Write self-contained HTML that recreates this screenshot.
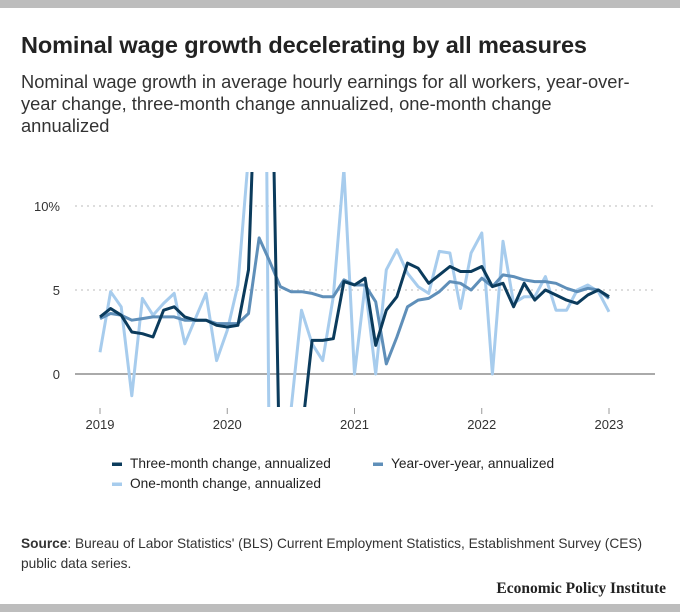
<!DOCTYPE html>
<html><head><meta charset="utf-8">
<style>
body{margin:0;width:680px;height:612px;background:#fff;overflow:hidden;font-family:"Liberation Sans",sans-serif;position:relative}
.bar{position:absolute;left:0;width:680px;height:8px;background:#bdbdbd}
#title{position:absolute;left:21px;top:32px;font-size:23.5px;font-weight:bold;color:#222;margin:0;letter-spacing:-0.1px;white-space:nowrap}
#subtitle{position:absolute;left:21px;top:71px;width:660px;font-size:18.3px;line-height:22px;color:#333;margin:0;white-space:nowrap}
#source{position:absolute;left:21px;top:534px;width:650px;font-size:13.7px;line-height:19.5px;color:#333}
#epi{position:absolute;right:14px;top:580px;font-family:"Liberation Serif",serif;font-weight:bold;font-size:15.5px;color:#222}
</style></head><body>
<div class="bar" style="top:0"></div>
<h1 id="title">Nominal wage growth decelerating by all measures</h1>
<p id="subtitle">Nominal wage growth in average hourly earnings for all workers, year-over-<br>year change, three-month change annualized, one-month change<br>annualized</p>
<svg id="chart" width="680" height="612" style="position:absolute;left:0;top:0">
<defs><clipPath id="plotclip"><rect x="60" y="172" width="610" height="235"/></clipPath></defs>
<g id="grid"></g><g id="axes"></g><g id="series" clip-path="url(#plotclip)"></g><g id="legend"></g>
</svg>
<div id="source"><b>Source</b>: Bureau of Labor Statistics' (BLS) Current Employment Statistics, Establishment Survey (CES) public data series.</div>
<div id="epi">Economic Policy Institute</div>
<div class="bar" style="top:604px"></div>
<script>
const yearTicks=[2019,2020,2021,2022,2023];
const yTicks=[0,5,10];
const yTickLabels=["0","5","10%"];
const threeMonth=[3.4,3.9,3.5,2.5,2.4,2.2,3.8,4.0,3.4,3.2,3.2,2.9,
2.8,2.9,6.2,24,26,-8,-7,-3.7,2.0,2.0,2.1,5.5,
5.3,5.7,1.7,3.8,4.6,6.6,6.3,5.4,5.9,6.4,6.1,6.1,
6.4,5.2,5.4,4.0,5.4,4.4,5.0,4.7,4.4,4.2,4.7,5.0,4.6];
const yoy=[3.3,3.6,3.5,3.2,3.3,3.4,3.4,3.4,3.2,3.2,3.2,3.0,
3.0,3.0,3.6,8.1,6.7,5.2,4.9,4.9,4.8,4.6,4.6,5.6,
5.3,5.3,4.3,0.6,2.2,4.0,4.4,4.5,4.9,5.5,5.4,5.0,
5.7,5.2,5.9,5.8,5.6,5.5,5.5,5.4,5.1,4.9,5.1,5.0,4.5];
const oneMonth=[1.3,4.9,4.0,-1.3,4.5,3.5,4.2,4.8,1.8,3.3,4.8,0.8,
2.6,5.3,13,68,-9,-8,-2.2,3.8,1.8,0.8,4.6,12.2,
0,5.3,0,6.2,7.4,6.0,5.2,4.8,7.3,7.2,3.9,7.2,
8.4,0,7.9,4.2,4.6,4.6,5.8,3.8,3.8,5.0,5.3,4.9,3.7];
const seriesNames=["Three-month change, annualized","Year-over-year, annualized","One-month change, annualized"];
const seriesColors=["#0b3b5c","#5f8fb9","#a7cced"];
const NS="http://www.w3.org/2000/svg";
const x=i=>100+i*(609-100)/48;
const y=v=>374-v*16.8;
function mk(tag,attrs,parent){const e=document.createElementNS(NS,tag);for(const k in attrs)e.setAttribute(k,attrs[k]);parent.appendChild(e);return e;}
const grid=document.getElementById('grid'),axes=document.getElementById('axes'),ser=document.getElementById('series'),leg=document.getElementById('legend');
yTicks.forEach((t,k)=>{
  const l=mk('line',{x1:75,x2:655,y1:y(t),y2:y(t),stroke:t===0?'#777':'#ddd','stroke-width':t===0?1.2:2,'stroke-dasharray':t===0?'':'2,4'},grid);
  
  
  const tx=mk('text',{x:60,y:y(t)+5,'text-anchor':'end','font-size':13,fill:'#333'},axes);
  tx.textContent=yTickLabels[k];
  
  
});
yearTicks.forEach((yr,k)=>{
  const xi=x(k*12);
  const l=mk('line',{x1:xi,x2:xi,y1:408,y2:414,stroke:'#999','stroke-width':1},axes);
  
  
  const tx=mk('text',{x:xi,y:429,'text-anchor':'middle','font-size':13,fill:'#333'},axes);
  tx.textContent=yr;
  
  
});
const all=[threeMonth,yoy,oneMonth];
[2,1,0].forEach(s=>{
  const d=all[s].map((v,i)=>(i?'L':'M')+x(i).toFixed(1)+','+y(v).toFixed(1)).join('');
  const p=mk('path',{d:d,fill:'none',stroke:seriesColors[s],'stroke-width':3,'stroke-linejoin':'round'},ser);
  
  
});
const legPos=[[112,468],[373,468],[112,488]];
seriesNames.forEach((n,s)=>{
  const g=mk('g',{},leg);
  
  
  mk('rect',{x:legPos[s][0],y:legPos[s][1]-5.5,width:10,height:3.5,fill:seriesColors[s]},g);
  const t=mk('text',{x:legPos[s][0]+18,y:legPos[s][1],'font-size':13.7,fill:'#222'},g);
  t.textContent=n;
});
</script>
</body></html>
